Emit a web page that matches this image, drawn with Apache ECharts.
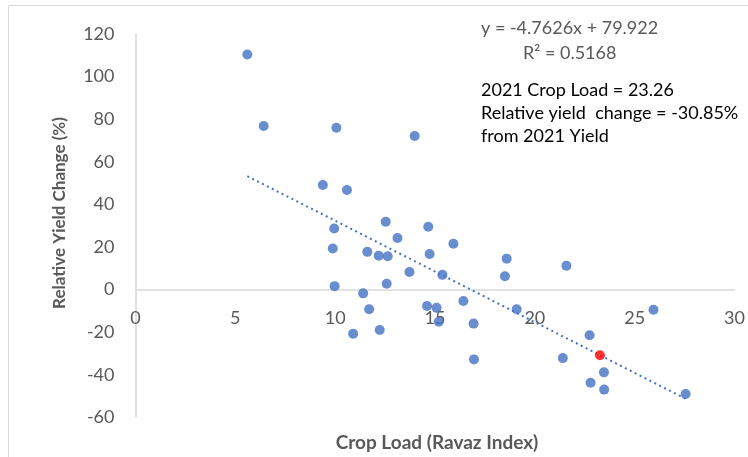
<!DOCTYPE html>
<html>
<head>
<meta charset="utf-8">
<script src="https://cdn.jsdelivr.net/npm/echarts@6/dist/echarts.min.js"></script>
<style>
  html, body { margin: 0; padding: 0; background: #ffffff; }
  #chart { width: 748px; height: 457px; }
</style>
</head>
<body>
<div id="chart"></div>
<script>
// Crop load (Ravaz index) vs. relative yield change, one point per vine record
const cropLoad = [5.60, 6.42, 10.06, 13.98, 9.38, 10.59, 12.53, 9.95, 14.66, 13.12,
  9.88, 15.92, 11.61, 12.18, 12.63, 14.73, 18.59, 21.58, 13.72, 15.37,
  18.50, 9.97, 12.58, 11.40, 16.42, 14.60, 15.08, 11.70, 19.09, 15.19,
  10.90, 12.23, 25.94, 16.93, 22.74, 16.95, 21.40, 23.46, 22.79, 23.47, 27.55];
const yieldChange = [110.4, 76.8, 76.0, 72.1, 49.1, 46.7, 31.8, 28.7, 29.5, 24.2,
  19.3, 21.5, 17.7, 15.9, 15.6, 16.7, 14.5, 11.2, 8.2, 6.9,
  6.2, 1.6, 2.7, -1.8, -5.4, -7.7, -8.6, -9.3, -9.3, -15.1,
  -20.8, -19.0, -9.5, -16.0, -21.5, -32.8, -32.2, -38.9, -43.8, -47.0, -49.1];

// 2021 season point
const cropLoad2021 = [23.26];
const yieldChange2021 = [-30.85];

// Linear fit y = slope * x + intercept
const slope = -4.7626;
const intercept = 79.922;
const rSquared = 0.5168;

// Axis ranges and tick steps
const xRange = [0, 30, 5];
const yRange = [-60, 120, 20];

const points = cropLoad.map((x, i) => [x, yieldChange[i]]);
const point2021 = cropLoad2021.map((x, i) => [x, yieldChange2021[i]]);
const xLo = Math.min(...cropLoad), xHi = Math.max(...cropLoad);
const trend = [[xLo, slope * xLo + intercept], [xHi, slope * xHi + intercept]];

const font = 'Lato, "Open Sans", sans-serif';
const grey = '#595959';
const lineGrey = '#d9d9d9';

// plot box
const gridTop = 34, gridBottom = 39.7;
const plotH = 457 - gridTop - gridBottom;
// shift the horizontal axis (line + labels) up to the y = 0 level
const zeroShift = plotH * (0 - yRange[0]) / (yRange[1] - yRange[0]);

const chart = echarts.init(document.getElementById('chart'), null, { renderer: 'canvas' });
chart.setOption({
  animation: false,
  backgroundColor: '#ffffff',
  grid: { left: 135.5, right: 8, top: gridTop, bottom: gridBottom, containLabel: false },
  xAxis: {
    type: 'value', min: xRange[0], max: xRange[1], interval: xRange[2],
    position: 'bottom', offset: -zeroShift,
    axisLine: { onZero: false, lineStyle: { color: lineGrey, width: 1.5 } },
    axisTick: { show: false },
    splitLine: { show: false },
    axisLabel: { color: grey, fontFamily: font, fontSize: 18, margin: 20 }
  },
  yAxis: {
    type: 'value', min: yRange[0], max: yRange[1], interval: yRange[2],
    axisLine: { show: true, onZero: false, lineStyle: { color: lineGrey, width: 1.5 } },
    axisTick: { show: false },
    splitLine: { show: false },
    axisLabel: { color: grey, fontFamily: font, fontSize: 18, margin: 21 }
  },
  series: [
    {
      type: 'line', data: trend, symbol: 'none', silent: true,
      lineStyle: { color: '#4472C4', width: 2, type: [2, 3.5] }, z: 1
    },
    {
      type: 'scatter', data: points, symbolSize: 10,
      itemStyle: { color: '#4472C4' }, z: 2
    },
    {
      type: 'scatter', data: point2021, symbolSize: 10,
      itemStyle: { color: '#FF0000' }, z: 3
    }
  ],
  graphic: [
    {
      type: 'rect', silent: true, z: -1,
      shape: { x: 8.5, y: 5.5, width: 760, height: 470 },
      style: { fill: 'none', stroke: lineGrey, lineWidth: 1 }
    },
    {
      type: 'text', x: 60, y: 213, rotation: Math.PI / 2,
      style: {
        text: 'Relative Yield Change (%)', fill: grey, font: 'bold 17px ' + font,
        textAlign: 'center', textVerticalAlign: 'middle'
      }
    },
    {
      type: 'text', x: 437, y: 443,
      style: {
        text: 'Crop Load (Ravaz Index)', fill: grey, font: 'bold 19px ' + font,
        textAlign: 'center', textVerticalAlign: 'middle'
      }
    },
    {
      type: 'text', x: 481, y: 28,
      style: {
        text: 'y = ' + slope + 'x + ' + intercept, fill: grey, font: '18px ' + font,
        textAlign: 'left', textVerticalAlign: 'middle'
      }
    },
    {
      type: 'text', x: 523, y: 53,
      style: {
        text: 'R² = ' + rSquared, fill: grey, font: '18px ' + font,
        textAlign: 'left', textVerticalAlign: 'middle'
      }
    },
    {
      type: 'text', x: 481, y: 90,
      style: {
        text: '2021 Crop Load = ' + cropLoad2021[0], fill: '#000000', font: '18px ' + font,
        textAlign: 'left', textVerticalAlign: 'middle'
      }
    },
    {
      type: 'text', x: 481, y: 113,
      style: {
        text: 'Relative yield  change = ' + yieldChange2021[0] + '%', fill: '#000000', font: '18px ' + font,
        textAlign: 'left', textVerticalAlign: 'middle'
      }
    },
    {
      type: 'text', x: 481, y: 136,
      style: {
        text: 'from 2021 Yield', fill: '#000000', font: '18px ' + font,
        textAlign: 'left', textVerticalAlign: 'middle'
      }
    }
  ]
});
</script>
</body>
</html>
